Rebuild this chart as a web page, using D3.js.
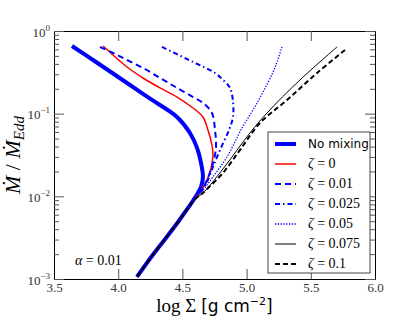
<!DOCTYPE html>
<html>
<head>
<meta charset="utf-8">
<script src="https://cdn.jsdelivr.net/npm/d3@7"></script>
<style>
  html, body { margin: 0; padding: 0; background: #fff; }
  svg { display: block; }
</style>
</head>
<body>
<svg id="chart" width="416" height="319"></svg>
<script>
// ---- Data (log Sigma, Mdot/Mdot_Edd) ----
const noMixing = [[3.64,0.659],[3.804,0.446],[4.069,0.235],[4.263,0.1465],[4.458,0.0912],[4.559,0.0584],[4.614,0.0385],[4.645,0.0254],[4.660,0.0172],[4.645,0.0130],[4.606,0.0101],[4.544,0.00724],[4.466,0.00490],[4.372,0.00314],[4.263,0.00190],[4.146,0.00106]];
const zeta0 = [[3.882,0.659],[4.069,0.367],[4.193,0.270],[4.326,0.205],[4.458,0.159],[4.583,0.117],[4.660,0.0912],[4.699,0.0635],[4.730,0.0418],[4.738,0.0317],[4.723,0.0221],[4.692,0.0158],[4.640,0.0113],[4.606,0.0101],[4.544,0.00724],[4.466,0.00490],[4.372,0.00314],[4.263,0.00190],[4.146,0.00106]];
const zeta001 = [[3.858,0.641],[3.960,0.542],[4.069,0.446],[4.193,0.357],[4.326,0.270],[4.458,0.205],[4.583,0.159],[4.660,0.135],[4.730,0.102],[4.754,0.0635],[4.762,0.0418],[4.754,0.0317],[4.730,0.0227],[4.692,0.0158],[4.645,0.0115],[4.606,0.0101],[4.544,0.00724],[4.466,0.00490],[4.372,0.00314],[4.263,0.00190],[4.146,0.00106]];
const zeta0025 = [[4.341,0.641],[4.583,0.422],[4.754,0.310],[4.816,0.256],[4.871,0.205],[4.894,0.138],[4.894,0.0912],[4.863,0.0635],[4.793,0.0364],[4.738,0.0227],[4.692,0.0150],[4.645,0.0115],[4.606,0.0101],[4.544,0.00724],[4.466,0.00490],[4.372,0.00314],[4.263,0.00190],[4.146,0.00106]];
const zeta005 = [[5.276,0.641],[5.237,0.422],[5.206,0.319],[5.128,0.183],[5.050,0.111],[4.964,0.0671],[4.847,0.0299],[4.738,0.0172],[4.660,0.0119],[4.606,0.0101],[4.544,0.00724],[4.466,0.00490],[4.372,0.00314],[4.263,0.00190],[4.146,0.00106]];
const zeta0075 = [[5.704,0.641],[5.416,0.256],[5.159,0.102],[5.026,0.0584],[4.840,0.0240],[4.700,0.0128],[4.645,0.0105],[4.606,0.0095],[4.544,0.00724],[4.466,0.00490],[4.372,0.00314],[4.263,0.00190],[4.146,0.00106]];
const zeta01 = [[5.766,0.589],[5.548,0.310],[5.315,0.1465],[5.104,0.0772],[4.949,0.0364],[4.816,0.0192],[4.700,0.0126],[4.645,0.0105],[4.606,0.0095],[4.544,0.00724],[4.466,0.00490],[4.372,0.00314],[4.263,0.00190],[4.146,0.00106]];

const seriesNames = ["No mixing","ζ = 0","ζ = 0.01","ζ = 0.025","ζ = 0.05","ζ = 0.075","ζ = 0.1"];
const seriesZeta = [null,"0","0.01","0.025","0.05","0.075","0.1"];
const seriesData = [noMixing, zeta0, zeta001, zeta0025, zeta005, zeta0075, zeta01];

const xTicks = [3.5,4.0,4.5,5.0,5.5,6.0];
const xTickLabels = ["3.5","4.0","4.5","5.0","5.5","6.0"];
const yTicks = [1e-3,1e-2,1e-1,1];
const yTickExp = ["−3","−2","−1","0"];

// ---- Styles ----
const styles = [
  {color:"#0000ff", width:4, dash:null},
  {color:"#ff0000", width:1.5, dash:null},
  {color:"#0000ff", width:2, dash:"6,4"},
  {color:"#0000ff", width:2, dash:"5,3,1.5,3"},
  {color:"#0000ff", width:1.3, dash:"1.3,1.5"},
  {color:"#000000", width:1, dash:null},
  {color:"#000000", width:2, dash:"5,3"}
];

const SERIF = '"Liberation Serif", "Times New Roman", serif';
const SANS = '"DejaVu Sans", sans-serif';

const L = 54, R = 375, T = 31, B = 279;
const svg = d3.select("#chart");
const x = d3.scaleLinear().domain([3.5, 6.0]).range([L, R]);
const y = d3.scaleLog().domain([1e-3, 1]).range([B, T]);

const yMinor = [];
for (let e = -3; e < 0; e++) for (let m = 2; m <= 9; m++) yMinor.push(m * Math.pow(10, e));

const tickColor = "#555";

// Bottom axis
const gB = svg.append("g").attr("transform", `translate(0,${B})`)
  .call(d3.axisBottom(x).tickValues(xTicks).tickSizeInner(-10).tickSizeOuter(0).tickPadding(4)
    .tickFormat((d,i) => xTickLabels[i]));
gB.selectAll("text").style("font-family", SERIF).style("font-size", "13px").attr("fill", "#333").attr("dy", "0.71em");
// Top axis
svg.append("g").attr("transform", `translate(0,${T})`)
  .call(d3.axisTop(x).tickValues(xTicks).tickSizeInner(-10).tickSizeOuter(0).tickFormat(""));
// Left axis
const gL = svg.append("g").attr("transform", `translate(${L},0)`)
  .call(d3.axisLeft(y).tickValues(yTicks).tickSizeInner(-10).tickSizeOuter(0).tickFormat(""));
gL.selectAll(".tick").append("text")
  .style("font-family", SERIF).style("font-size", "13px")
  .attr("x", -4).attr("y", 5)
  .attr("text-anchor", "end")
  .attr("fill", "#333")
  .each(function(d) {
    const t = d3.select(this);
    t.append("tspan").text("10");
    t.append("tspan").attr("dy", -6).style("font-size", "9px").text(yTickExp[yTicks.indexOf(d)]);
  });
svg.append("g").attr("transform", `translate(${L},0)`)
  .call(d3.axisLeft(y).tickValues(yMinor).tickSizeInner(-5).tickSizeOuter(0).tickFormat(""))
  .select(".domain").remove();
// Right axis
svg.append("g").attr("transform", `translate(${R},0)`)
  .call(d3.axisRight(y).tickValues(yTicks).tickSizeInner(-10).tickSizeOuter(0).tickFormat(""));
svg.append("g").attr("transform", `translate(${R},0)`)
  .call(d3.axisRight(y).tickValues(yMinor).tickSizeInner(-5).tickSizeOuter(0).tickFormat(""))
  .select(".domain").remove();

svg.selectAll(".tick line").attr("stroke", tickColor);
svg.selectAll(".domain").attr("stroke", "#000").attr("stroke-width", 1);

// Curves
svg.append("clipPath").attr("id", "clip").append("rect")
  .attr("x", L).attr("y", T).attr("width", R - L).attr("height", B - T);
const line = d3.line().x(d => x(d[0])).y(d => y(d[1])).curve(d3.curveCatmullRom.alpha(0.5));
const gLines = svg.append("g").attr("clip-path", "url(#clip)");
seriesData.forEach((data, i) => {
  const s = styles[i];
  gLines.append("path").datum(data)
    .attr("d", line)
    .attr("fill", "none")
    .attr("stroke", s.color)
    .attr("stroke-width", s.width)
    .attr("stroke-dasharray", s.dash)
    .attr("stroke-linejoin", "round");
});

// Legend
const lg = svg.append("g");
lg.append("rect").attr("x", 268).attr("y", 132).attr("width", 102).attr("height", 141)
  .attr("fill", "#fff").attr("stroke", "#444").attr("stroke-width", 1);
seriesNames.forEach((name, i) => {
  const yy = 144 + i * 20;
  const s = styles[i];
  lg.append("line").attr("x1", 275).attr("x2", 296).attr("y1", yy).attr("y2", yy)
    .attr("stroke", s.color).attr("stroke-width", s.width).attr("stroke-dasharray", s.dash);
  const t = lg.append("text").attr("x", 308).attr("y", yy + 4).attr("fill", "#000");
  if (seriesZeta[i] === null) {
    t.style("font-family", SANS).style("font-size", "12px").text(name);
  } else {
    t.style("font-family", SERIF).style("font-size", "14px");
    t.append("tspan").style("font-style", "italic").text("ζ");
    t.append("tspan").text(" = " + seriesZeta[i]);
  }
});

// alpha annotation
const at = svg.append("text").attr("x", 75).attr("y", 265)
  .style("font-family", SERIF).style("font-size", "14px").attr("fill", "#000");
at.append("tspan").style("font-style", "italic").text("α");
at.append("tspan").text(" = 0.01");

// X label
const xl = svg.append("text").attr("x", (L + R) / 2).attr("y", 312).attr("text-anchor", "middle").attr("fill", "#000");
xl.append("tspan").style("font-family", SERIF).style("font-size", "19px").text("log Σ ");
xl.append("tspan").style("font-family", SANS).style("font-size", "17px").text("[g cm");
xl.append("tspan").style("font-family", SANS).style("font-size", "11px").attr("dy", -7).text("−2");
xl.append("tspan").style("font-family", SANS).style("font-size", "17px").attr("dy", 7).text("]");

// Y label
const yl = svg.append("text").attr("transform", `translate(20,${(T + B) / 2}) rotate(-90)`)
  .attr("text-anchor", "middle").style("font-family", SERIF).style("font-size", "22px").attr("fill", "#000");
yl.append("tspan").style("font-style", "italic").text("Ṁ");
yl.append("tspan").text(" / ");
yl.append("tspan").style("font-style", "italic").text("Ṁ");
yl.append("tspan").style("font-style", "italic").style("font-size", "15px").attr("dy", 4).text("Edd");
</script>
</body>
</html>
